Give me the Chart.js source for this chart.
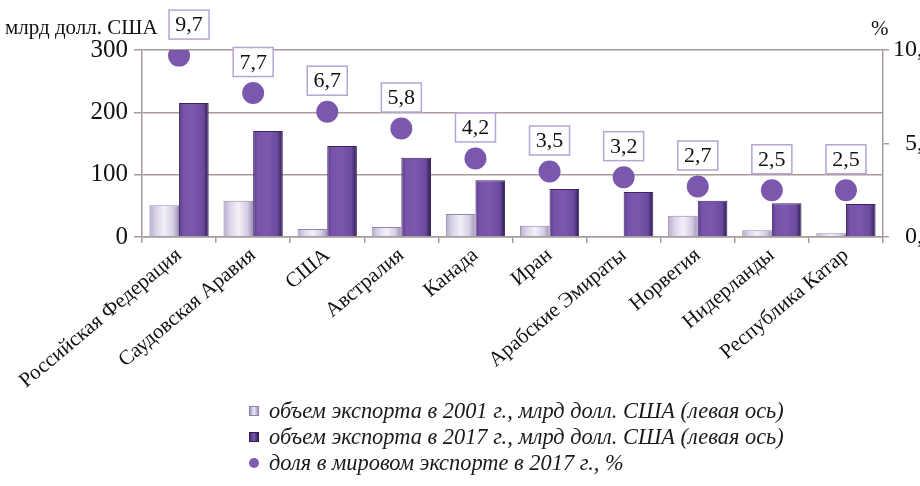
<!DOCTYPE html>
<html>
<head>
<meta charset="utf-8">
<script src="https://cdn.jsdelivr.net/npm/chart.js@4.4.1/dist/chart.umd.min.js"></script>
<style>
  html, body { margin: 0; padding: 0; background: #fff; }
  #wrap { position: relative; width: 920px; height: 486px; overflow: hidden; }
  #chart { position: absolute; left: 0; top: 0; }
  #legend { position: absolute; left: 249px; top: 398px; font-family: "Liberation Serif", serif; font-style: italic; font-size: 22.4px; color: #1a1a1a; }
  #legend div { height: 26px; line-height: 26px; white-space: nowrap; }
  #legend span.m { display: inline-block; width: 9px; height: 9px; margin-right: 10px; vertical-align: 2px; }
</style>
</head>
<body>
<div id="wrap">
  <canvas id="chart" width="935" height="410"></canvas>
  <div id="legend">
    <div><span class="m" style="background:linear-gradient(90deg,#a597bf,#eee9f5 50%,#a597bf);border:1px solid #8e80a8;width:8px;height:8px"></span>объем экспорта в 2001 г., млрд долл. США (левая ось)</div>
    <div><span class="m" style="background:linear-gradient(90deg,#4a2f78,#7a58ad 50%,#33205a);border:1px solid #2e1a4f;width:8px;height:8px"></span>объем экспорта в 2017 г., млрд долл. США (левая ось)</div>
    <div><span class="m" style="background:#7e5bb0;border-radius:50%;width:10px;height:10px"></span>доля в мировом экспорте в 2017 г., %</div>
  </div>
</div>
<script>
const categories = [
  "Российская Федерация",
  "Саудовская Аравия",
  "США",
  "Австралия",
  "Канада",
  "Иран",
  "Арабские Эмираты",
  "Норвегия",
  "Нидерланды",
  "Республика Катар",
];
const exports2001 = [51, 58, 13, 16, 37, 18, 0, 34, 11, 6];
const exports2017 = [215, 170, 146, 127, 91, 77, 72, 58, 54, 53];
const worldShare = [9.7, 7.7, 6.7, 5.8, 4.2, 3.5, 3.2, 2.7, 2.5, 2.5];
const leftTicks = [0, 100, 200, 300];
const rightTicks = [0, 5, 10];

const serif = "'Liberation Serif', 'Times New Roman', serif";
const gridColor = "#a89c98";

// horizontal gradient across each bar, for the glossy look
function barFill(stops, solid) {
  return function (c) {
    const el = c.element;
    if (!el || el.x === undefined || isNaN(el.x) || !el.width) return solid;
    const g = c.chart.ctx.createLinearGradient(el.x - el.width / 2, 0, el.x + el.width / 2, 0);
    stops.forEach(function (s) { g.addColorStop(s[0], s[1]); });
    return g;
  };
}

const boxLabels = {
  id: "boxLabels",
  afterDatasetsDraw(chart) {
    const ctx = chart.ctx;
    const meta = chart.getDatasetMeta(0); // the share points
    ctx.save();
    ctx.font = "22px " + serif;
    ctx.textAlign = "center";
    ctx.textBaseline = "middle";
    meta.data.forEach(function (pt, i) {
      // first box nudged right so it clears the axis title
      const cx = pt.x + (i === 0 ? 10 : 0);
      const cy = pt.y - 31;
      const w = 40, h = 29;
      ctx.fillStyle = "#fff";
      ctx.fillRect(cx - w / 2, cy - h / 2, w, h);
      ctx.strokeStyle = "#b6a4d4";
      ctx.lineWidth = 1.5;
      ctx.strokeRect(cx - w / 2, cy - h / 2, w, h);
      ctx.fillStyle = "#111";
      ctx.fillText(String(worldShare[i]).replace(".", ","), cx, cy + 1);
    });
    ctx.restore();
  },
};

const axisTitles = {
  id: "axisTitles",
  afterDraw(chart) {
    const ctx = chart.ctx;
    ctx.save();
    ctx.fillStyle = "#111";
    ctx.textBaseline = "middle";
    ctx.font = "21px " + serif;
    ctx.textAlign = "left";
    ctx.fillText("млрд долл. США", 5, 28);
    ctx.fillText("%", 871, 29);
    ctx.restore();
  },
};

const chart = new Chart(document.getElementById("chart").getContext("2d"), {
  data: {
    labels: categories,
    datasets: [
      {
        type: "line",
        label: "доля в мировом экспорте в 2017 г., %",
        data: worldShare,
        yAxisID: "y1",
        showLine: false,
        pointRadius: 11,
        pointHoverRadius: 11,
        pointBackgroundColor: "#7b57ae",
        pointBorderWidth: 0,
        order: 0,
      },
      {
        type: "bar",
        label: "объем экспорта в 2001 г., млрд долл. США (левая ось)",
        data: exports2001,
        yAxisID: "y",
        backgroundColor: barFill(
          [[0, "#b4a8cb"], [0.2, "#d9d1e8"], [0.5, "#f3f0f8"], [0.8, "#d6cde5"], [1, "#9e91b8"]],
          "#d8d0e6"
        ),
        borderColor: "#9385ad",
        borderWidth: 1,
        categoryPercentage: 0.8,
        barPercentage: 1.0,
        order: 1,
      },
      {
        type: "bar",
        label: "объем экспорта в 2017 г., млрд долл. США (левая ось)",
        data: exports2017,
        yAxisID: "y",
        backgroundColor: barFill(
          [[0, "#5a3c8c"], [0.15, "#7753aa"], [0.5, "#7b57ae"], [0.82, "#6a4a9e"], [1, "#2c1a4c"]],
          "#7652a8"
        ),
        borderColor: "#3a2461",
        borderWidth: 1,
        categoryPercentage: 0.8,
        barPercentage: 1.0,
        order: 1,
      },
    ],
  },
  options: {
    responsive: false,
    animation: false,
    layout: { padding: { top: 50, left: 0, right: 0, bottom: 0 } },
    plugins: {
      legend: { display: false },
      tooltip: { enabled: false },
    },
    scales: {
      x: {
        offset: true,
        grid: { drawOnChartArea: false, drawTicks: true, tickLength: 6, color: gridColor, lineWidth: 1.5, offset: true },
        border: { color: gridColor, width: 1.5 },
        ticks: {
          autoSkip: false,
          minRotation: 40,
          maxRotation: 40,
          padding: 0,
          color: "#111",
          font: { family: serif, size: 21 },
        },
        afterFit(s) { s.height = 410 - 237; },
      },
      y: {
        position: "left",
        min: 0,
        max: 300,
        afterBuildTicks(s) { s.ticks = leftTicks.map(function (v) { return { value: v }; }); },
        grid: { color: gridColor, lineWidth: 1.5, tickLength: 8 },
        border: { color: gridColor, width: 1.5 },
        ticks: { padding: 6, color: "#111", font: { family: serif, size: 25 } },
        afterFit(s) { s.width = 142; },
      },
      y1: {
        position: "right",
        min: 0,
        max: 10,
        afterBuildTicks(s) { s.ticks = rightTicks.map(function (v) { return { value: v }; }); },
        grid: { drawOnChartArea: false, color: gridColor, lineWidth: 1.5, tickLength: 6 },
        border: { color: gridColor, width: 1.5 },
        ticks: {
          padding: 4,
          crossAlign: "far",
          color: "#111",
          font: { family: serif, size: 24 },
          callback: function (v) { return v.toFixed(1).replace(".", ","); },
        },
        afterFit(s) { s.width = 935 - 883; },
      },
    },
  },
  plugins: [boxLabels, axisTitles],
});
chart.update("none");
</script>
</body>
</html>
